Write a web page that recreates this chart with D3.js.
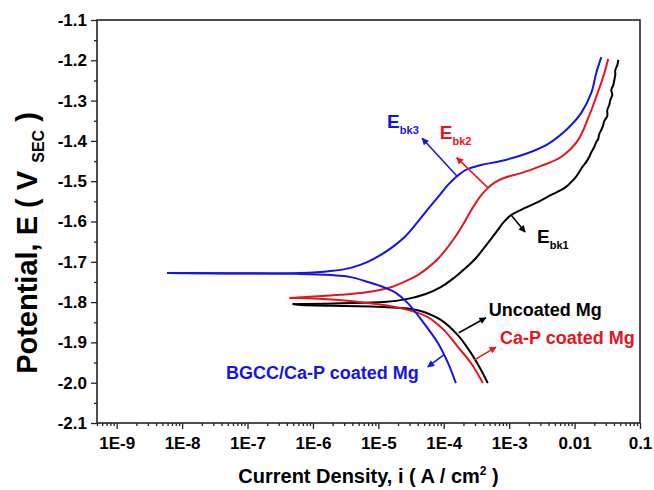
<!DOCTYPE html>
<html>
<head>
<meta charset="utf-8">
<script src="https://cdn.jsdelivr.net/npm/d3@7"></script>
<style>
  body { margin: 0; background: #fff; }
  text { font-family: "Liberation Sans", Arial, sans-serif; font-weight: bold; }
</style>
</head>
<body>
<div id="chart"></div>
<script>
// tick values and labels
const xMajor = [1e-9, 1e-8, 1e-7, 1e-6, 1e-5, 1e-4, 1e-3, 1e-2, 1e-1];
const xLabels = ["1E-9", "1E-8", "1E-7", "1E-6", "1E-5", "1E-4", "1E-3", "0.01", "0.1"];
const yMajor = [-2.1, -2.0, -1.9, -1.8, -1.7, -1.6, -1.5, -1.4, -1.3, -1.2, -1.1];
const yLabels = ["-2.1", "-2.0", "-1.9", "-1.8", "-1.7", "-1.6", "-1.5", "-1.4", "-1.3", "-1.2", "-1.1"];

// [current density A/cm2, potential V]
const uncoatedAnodic = [
  [4.9e-7, -1.805], [6.5e-7, -1.805], [2.65e-6, -1.803], [1.21e-5, -1.800], [2.8e-5, -1.792],
  [5.3e-5, -1.780], [9.0e-5, -1.763], [1.43e-4, -1.740], [2.18e-4, -1.715], [3.21e-4, -1.688],
  [4.58e-4, -1.656], [6.5e-4, -1.624], [8.3e-4, -1.601], [1.07e-3, -1.584], [1.52e-3, -1.571],
  [2.58e-3, -1.554], [4.38e-3, -1.534], [5.41e-3, -1.527], [6.69e-3, -1.519], [7.7e-3, -1.512],
  [8.87e-3, -1.502], [1.02e-2, -1.492], [1.18e-2, -1.477], [1.31e-2, -1.465], [1.51e-2, -1.452],
  [1.67e-2, -1.440], [1.8e-2, -1.428], [2.0e-2, -1.415], [2.14e-2, -1.403], [2.3e-2, -1.395],
  [2.38e-2, -1.383], [2.56e-2, -1.373], [2.74e-2, -1.361], [2.84e-2, -1.351], [3.16e-2, -1.338],
  [3.16e-2, -1.323], [3.39e-2, -1.311], [3.51e-2, -1.299], [3.77e-2, -1.286], [3.64e-2, -1.274],
  [3.91e-2, -1.261], [4.05e-2, -1.249], [4.19e-2, -1.236], [4.19e-2, -1.224], [4.5e-2, -1.212],
  [4.66e-2, -1.199]
];
const uncoatedCathodic = [
  [4.9e-7, -1.805], [6.5e-7, -1.807], [1.21e-5, -1.812], [4.0e-5, -1.820], [9.0e-5, -1.844],
  [1.64e-4, -1.882], [2.6e-4, -1.926], [3.7e-4, -1.968], [4.7e-4, -2.001]
];
const capAnodic = [
  [4.4e-7, -1.790], [6.5e-7, -1.788], [2.65e-6, -1.782], [6.9e-6, -1.775], [1.55e-5, -1.763],
  [2.62e-5, -1.748], [4.0e-5, -1.733], [5.7e-5, -1.715], [8.1e-5, -1.693], [1.12e-4, -1.666],
  [1.53e-4, -1.636], [2.03e-4, -1.604], [2.7e-4, -1.569], [3.57e-4, -1.539], [4.58e-4, -1.519],
  [5.9e-4, -1.504], [8.3e-4, -1.492], [1.52e-3, -1.480], [3.08e-3, -1.462], [6.2e-3, -1.440],
  [1.13e-2, -1.398], [1.62e-2, -1.343], [2.14e-2, -1.291], [2.74e-2, -1.241], [3.27e-2, -1.197]
];
const capCathodic = [
  [4.4e-7, -1.790], [6.5e-7, -1.790], [6.9e-6, -1.802], [2.2e-5, -1.815], [5.7e-5, -1.837],
  [1.0e-4, -1.869], [1.64e-4, -1.911], [2.6e-4, -1.951], [3.97e-4, -2.001]
];
const bgccAnodic = [
  [5.9e-9, -1.728], [6.5e-7, -1.728], [1.86e-6, -1.723], [3.77e-6, -1.715], [6.9e-6, -1.700],
  [1.09e-5, -1.683], [1.72e-5, -1.661], [2.62e-5, -1.636], [4.0e-5, -1.601], [5.9e-5, -1.567],
  [8.4e-5, -1.537], [1.16e-4, -1.509], [1.53e-4, -1.490], [2.18e-4, -1.472], [3.7e-4, -1.460],
  [7.5e-4, -1.450], [1.95e-3, -1.430], [3.9e-3, -1.408], [8.0e-3, -1.368], [1.26e-2, -1.331],
  [1.8e-2, -1.281], [2.14e-2, -1.232], [2.56e-2, -1.192]
];
const bgccCathodic = [
  [5.9e-9, -1.728], [6.5e-7, -1.730], [1.86e-6, -1.733], [3.77e-6, -1.738], [6.9e-6, -1.750],
  [1.21e-5, -1.763], [1.85e-5, -1.777], [2.8e-5, -1.802], [4.95e-5, -1.852], [8.1e-5, -1.901],
  [1.16e-4, -1.951], [1.53e-4, -2.001]
];

const series = [
  { name: "Uncoated Mg", color: "#000000", branches: [uncoatedAnodic, uncoatedCathodic] },
  { name: "Ca-P coated Mg", color: "#e8141c", branches: [capAnodic, capCathodic] },
  { name: "BGCC/Ca-P coated Mg", color: "#1414e6", branches: [bgccAnodic, bgccCathodic] }
];

// annotations: anchor on a curve (data), arrow offset and label offset in px
const annotations = [
  { x: 1.6e-4, y: -1.488, dx: -35, dy: -38, lx: -70, ly: -48, main: "E", sub: "bk3", color: "#1414e6" },
  { x: 4.7e-4, y: -1.516, dx: -31, dy: -30, lx: -48, ly: -49, main: "E", sub: "bk2", color: "#e8141c" },
  { x: 1.07e-3, y: -1.584, dx: 14, dy: 17, lx: 26, ly: 28, main: "E", sub: "bk1", color: "#000000" },
  { x: 1.7e-4, y: -1.876, dx: 27, dy: -15, lx: 30, ly: -17, main: "Uncoated Mg", color: "#000000" },
  { x: 2.9e-4, y: -1.944, dx: 22, dy: -13, lx: 26, ly: -16, main: "Ca-P coated Mg", color: "#e8141c" },
  { x: 1.0e-4, y: -1.931, dx: -16, dy: 12, lx: -25, ly: 24, main: "BGCC/Ca-P coated Mg", color: "#1414e6", anchor: "end" }
];

const width = 654, height = 490;
const margin = { top: 20, right: 14, bottom: 67, left: 97 };

const svg = d3.select("#chart")
  .append("svg")
  .attr("width", width)
  .attr("height", height);

const x = d3.scaleLog()
  .domain([5e-10, 0.1])
  .range([margin.left, width - margin.right]);

const y = d3.scaleLinear()
  .domain([-2.1, -1.1])
  .range([height - margin.bottom, margin.top]);

const xMinor = [];
for (let e = -10; e < -1; e++) {
  for (let k = 2; k <= 9; k++) {
    const v = k * Math.pow(10, e);
    if (v >= 5e-10 && v <= 0.1) xMinor.push(v);
  }
}
const yMinor = yMajor.slice(0, -1).map(v => v + 0.05);

// minor ticks
svg.append("g")
  .attr("class", "x-minor")
  .attr("transform", `translate(0,${y(-2.1)})`)
  .call(d3.axisBottom(x).tickValues(xMinor).tickSize(3).tickFormat(""));

svg.append("g")
  .attr("class", "y-minor")
  .attr("transform", `translate(${x(5e-10)},0)`)
  .call(d3.axisLeft(y).tickValues(yMinor).tickSize(3).tickFormat(""));

// major ticks
svg.append("g")
  .attr("class", "x-axis")
  .attr("transform", `translate(0,${y(-2.1)})`)
  .call(d3.axisBottom(x).tickValues(xMajor).tickSize(6).tickPadding(8)
    .tickFormat((d, i) => xLabels[i]));

svg.append("g")
  .attr("class", "y-axis")
  .attr("transform", `translate(${x(5e-10)},0)`)
  .call(d3.axisLeft(y).tickValues(yMajor).tickSize(6).tickPadding(4)
    .tickFormat((d, i) => yLabels[i]));

svg.selectAll(".x-axis text, .y-axis text")
  .attr("fill", "#000")
  .style("font-size", "17px");
svg.selectAll(".x-axis .domain, .y-axis .domain, .x-minor .domain, .y-minor .domain").remove();
svg.selectAll(".tick line").attr("stroke", "#222").attr("stroke-width", 1.3);

// frame
svg.append("rect")
  .attr("x", x(5e-10))
  .attr("y", y(-1.1))
  .attr("width", x(0.1) - x(5e-10))
  .attr("height", y(-2.1) - y(-1.1))
  .attr("fill", "none")
  .attr("stroke", "#222")
  .attr("stroke-width", 1.6);

// curves
const line = d3.line()
  .x(d => x(d[0]))
  .y(d => y(d[1]))
  .curve(d3.curveCatmullRom.alpha(0.5));

series.forEach(s => {
  s.branches.forEach(b => {
    svg.append("path")
      .datum(b)
      .attr("fill", "none")
      .attr("stroke", s.color)
      .attr("stroke-width", 2)
      .attr("stroke-linejoin", "round")
      .attr("d", line);
  });
});

// arrow markers
const defs = svg.append("defs");
annotations.forEach((a, i) => {
  defs.append("marker")
    .attr("id", "arrow" + i)
    .attr("viewBox", "0 0 10 10")
    .attr("refX", 9)
    .attr("refY", 5)
    .attr("markerWidth", 9)
    .attr("markerHeight", 7)
    .attr("markerUnits", "userSpaceOnUse")
    .attr("orient", "auto")
    .append("path")
    .attr("d", "M0,0 L10,5 L0,10 Z")
    .attr("fill", a.color);
});

annotations.forEach((a, i) => {
  const px = x(a.x), py = y(a.y);
  svg.append("line")
    .attr("x1", px).attr("y1", py)
    .attr("x2", px + a.dx).attr("y2", py + a.dy)
    .attr("stroke", a.color)
    .attr("stroke-width", 1.5)
    .attr("marker-end", `url(#arrow${i})`);

  const t = svg.append("text")
    .attr("x", px + a.lx)
    .attr("y", py + a.ly)
    .attr("fill", a.color)
    .attr("text-anchor", a.anchor || "start");
  if (a.sub) {
    t.append("tspan").style("font-size", "19px").text(a.main);
    t.append("tspan").style("font-size", "11px").attr("dy", 6).text(a.sub);
  } else {
    t.style("font-size", "18px").text(a.main);
  }
});

// axis titles
const xTitle = svg.append("text")
  .attr("x", (x(5e-10) + x(0.1)) / 2)
  .attr("y", 483)
  .attr("text-anchor", "middle")
  .style("font-size", "20px");
xTitle.append("tspan").text("Current Density, i ( A / cm");
xTitle.append("tspan").attr("dy", -8).style("font-size", "12px").text("2");
xTitle.append("tspan").attr("dy", 8).text(" )");

const yTitle = svg.append("text")
  .attr("transform", "translate(37,243) rotate(-90)")
  .attr("text-anchor", "middle")
  .style("font-size", "29px");
yTitle.append("tspan").text("Potential, E ( V ");
yTitle.append("tspan").attr("dy", 7).style("font-size", "16px").text("SEC");
yTitle.append("tspan").attr("dy", -7).text(" )");
</script>
</body>
</html>
